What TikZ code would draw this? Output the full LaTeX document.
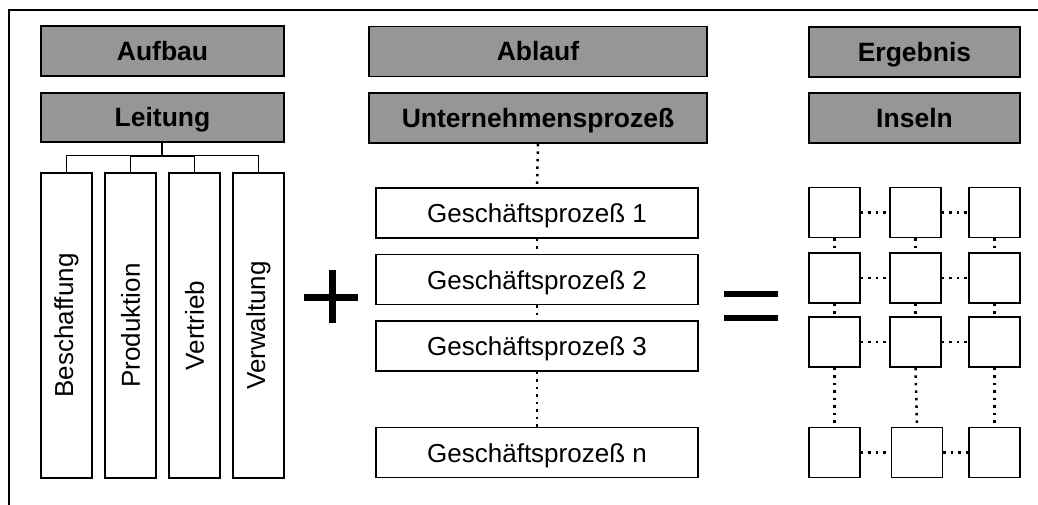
\documentclass[tikz,border=0pt]{standalone}
\usepackage{fontspec}
\setmainfont{Liberation Sans}
\definecolor{hdrgray}{RGB}{150,150,150}
\begin{document}
\begin{tikzpicture}[x=1pt,y=-1pt,
  hdr/.style={draw=black,line width=1.6pt,fill=hdrgray,rectangle,inner sep=0pt,
    text height=19pt,text depth=0pt,
    font=\fontsize{26.5}{31}\selectfont\bfseries},
  plainbox/.style={draw=black,line width=1.4pt,fill=white,rectangle,inner sep=0pt,
    font=\fontsize{26}{31}\selectfont},
  vbox/.style={plainbox,minimum width=51pt,minimum height=305pt},
  gpbox/.style={plainbox,text height=19pt,text depth=0pt,minimum width=322pt,minimum height=50pt},
  sq/.style={draw=black,line width=1.6pt,fill=white,rectangle,inner sep=0pt,minimum width=51pt,minimum height=50pt},
  dotline/.style={line width=2.5pt,dash pattern=on 2.5pt off 5pt},
  treeline/.style={line width=1pt}]
\useasboundingbox (0,0) rectangle (1038,505);
% frame
\draw[line width=2pt] (9,505) -- (9,10) -- (1038,10);
% headers
\node[hdr,minimum width=243pt,minimum height=50pt] (aufbau) at (162.5,51) {Aufbau};
\node[hdr,minimum width=243pt,minimum height=49pt] (leitung) at (162.5,117.5) {Leitung};
\node[hdr,minimum width=338pt,minimum height=50pt] (ablauf) at (538,51.5) {Ablauf};
\node[hdr,minimum width=338pt,minimum height=50pt] (unt) at (538,118) {Unternehmensprozeß};
\node[hdr,minimum width=211pt,minimum height=50pt] (ergebnis) at (914.5,52) {Ergebnis};
\node[hdr,minimum width=211pt,minimum height=50pt] (inseln) at (914.5,118) {Inseln};
% vertical departments
\node[vbox] (besch) at (66.5,325.5) {\rotatebox{90}{Beschaffung}};
\node[vbox] (prod) at (130.5,325.5) {\rotatebox{90}{Produktion}};
\node[vbox] (vert) at (194.5,325.5) {\rotatebox{90}{Vertrieb}};
\node[vbox] (verw) at (258.5,325.5) {\rotatebox{90}{Verwaltung}};
% tree
\coordinate (tj) at (162,156);
\draw[line width=2pt] (leitung.south -| tj) -- (tj);
\draw[line width=2pt] (prod.north |- tj) -- (vert.north |- tj);
\draw[treeline] (besch.north) -- (besch.north |- tj) -- (verw.north |- tj) -- (verw.north);
\draw[treeline] (prod.north) -- (prod.north |- tj);
\draw[treeline] (vert.north) -- (vert.north |- tj);
% plus
\draw[line width=7pt] (304,297.5) -- (358,297.5);
\draw[line width=7pt] (332.5,270) -- (332.5,323);
% process boxes
\node[gpbox] (g1) at (537,213) {Geschäftsprozeß 1};
\node[gpbox] (g2) at (537,279.5) {Geschäftsprozeß 2};
\node[gpbox] (g3) at (537,346) {Geschäftsprozeß 3};
\node[gpbox] (gn) at (537,452.5) {Geschäftsprozeß n};
\draw[dotline] (unt.south) -- (g1.north);
\draw[dotline] (g1.south) -- (g2.north);
\draw[dotline] (g2.south) -- (g3.north);
\draw[dotline] (g3.south) -- (gn.north);
% equals
\fill[black] (724,291) rectangle (778,297);
\fill[black] (724,315) rectangle (778,321);
% grid of islands
\node[sq] (s11) at (834.5,212.5) {};
\node[sq] (s12) at (915.5,212.5) {};
\node[sq] (s13) at (994.5,212.5) {};
\node[sq] (s21) at (834.5,278) {};
\node[sq] (s22) at (915.5,278) {};
\node[sq] (s23) at (994.5,278) {};
\node[sq] (s31) at (834.5,342) {};
\node[sq] (s32) at (915.5,342) {};
\node[sq] (s33) at (994.5,342) {};
\node[sq] (s41) at (834.5,452.5) {};
\node[sq] (s42) at (917,452.5) {};
\node[sq] (s43) at (994.5,452.5) {};
\foreach \r in {1,2,3,4}{
  \draw[dotline] (s\r1.east) -- (s\r2.west);
  \draw[dotline] (s\r2.east) -- (s\r3.west);
}
\foreach \c in {1,2,3}{
  \draw[dotline] (s1\c.south) -- (s2\c.north);
  \draw[dotline] (s2\c.south) -- (s3\c.north);
  \draw[dotline] (s3\c.south) -- (s4\c.north);
}
\end{tikzpicture}
\end{document}
